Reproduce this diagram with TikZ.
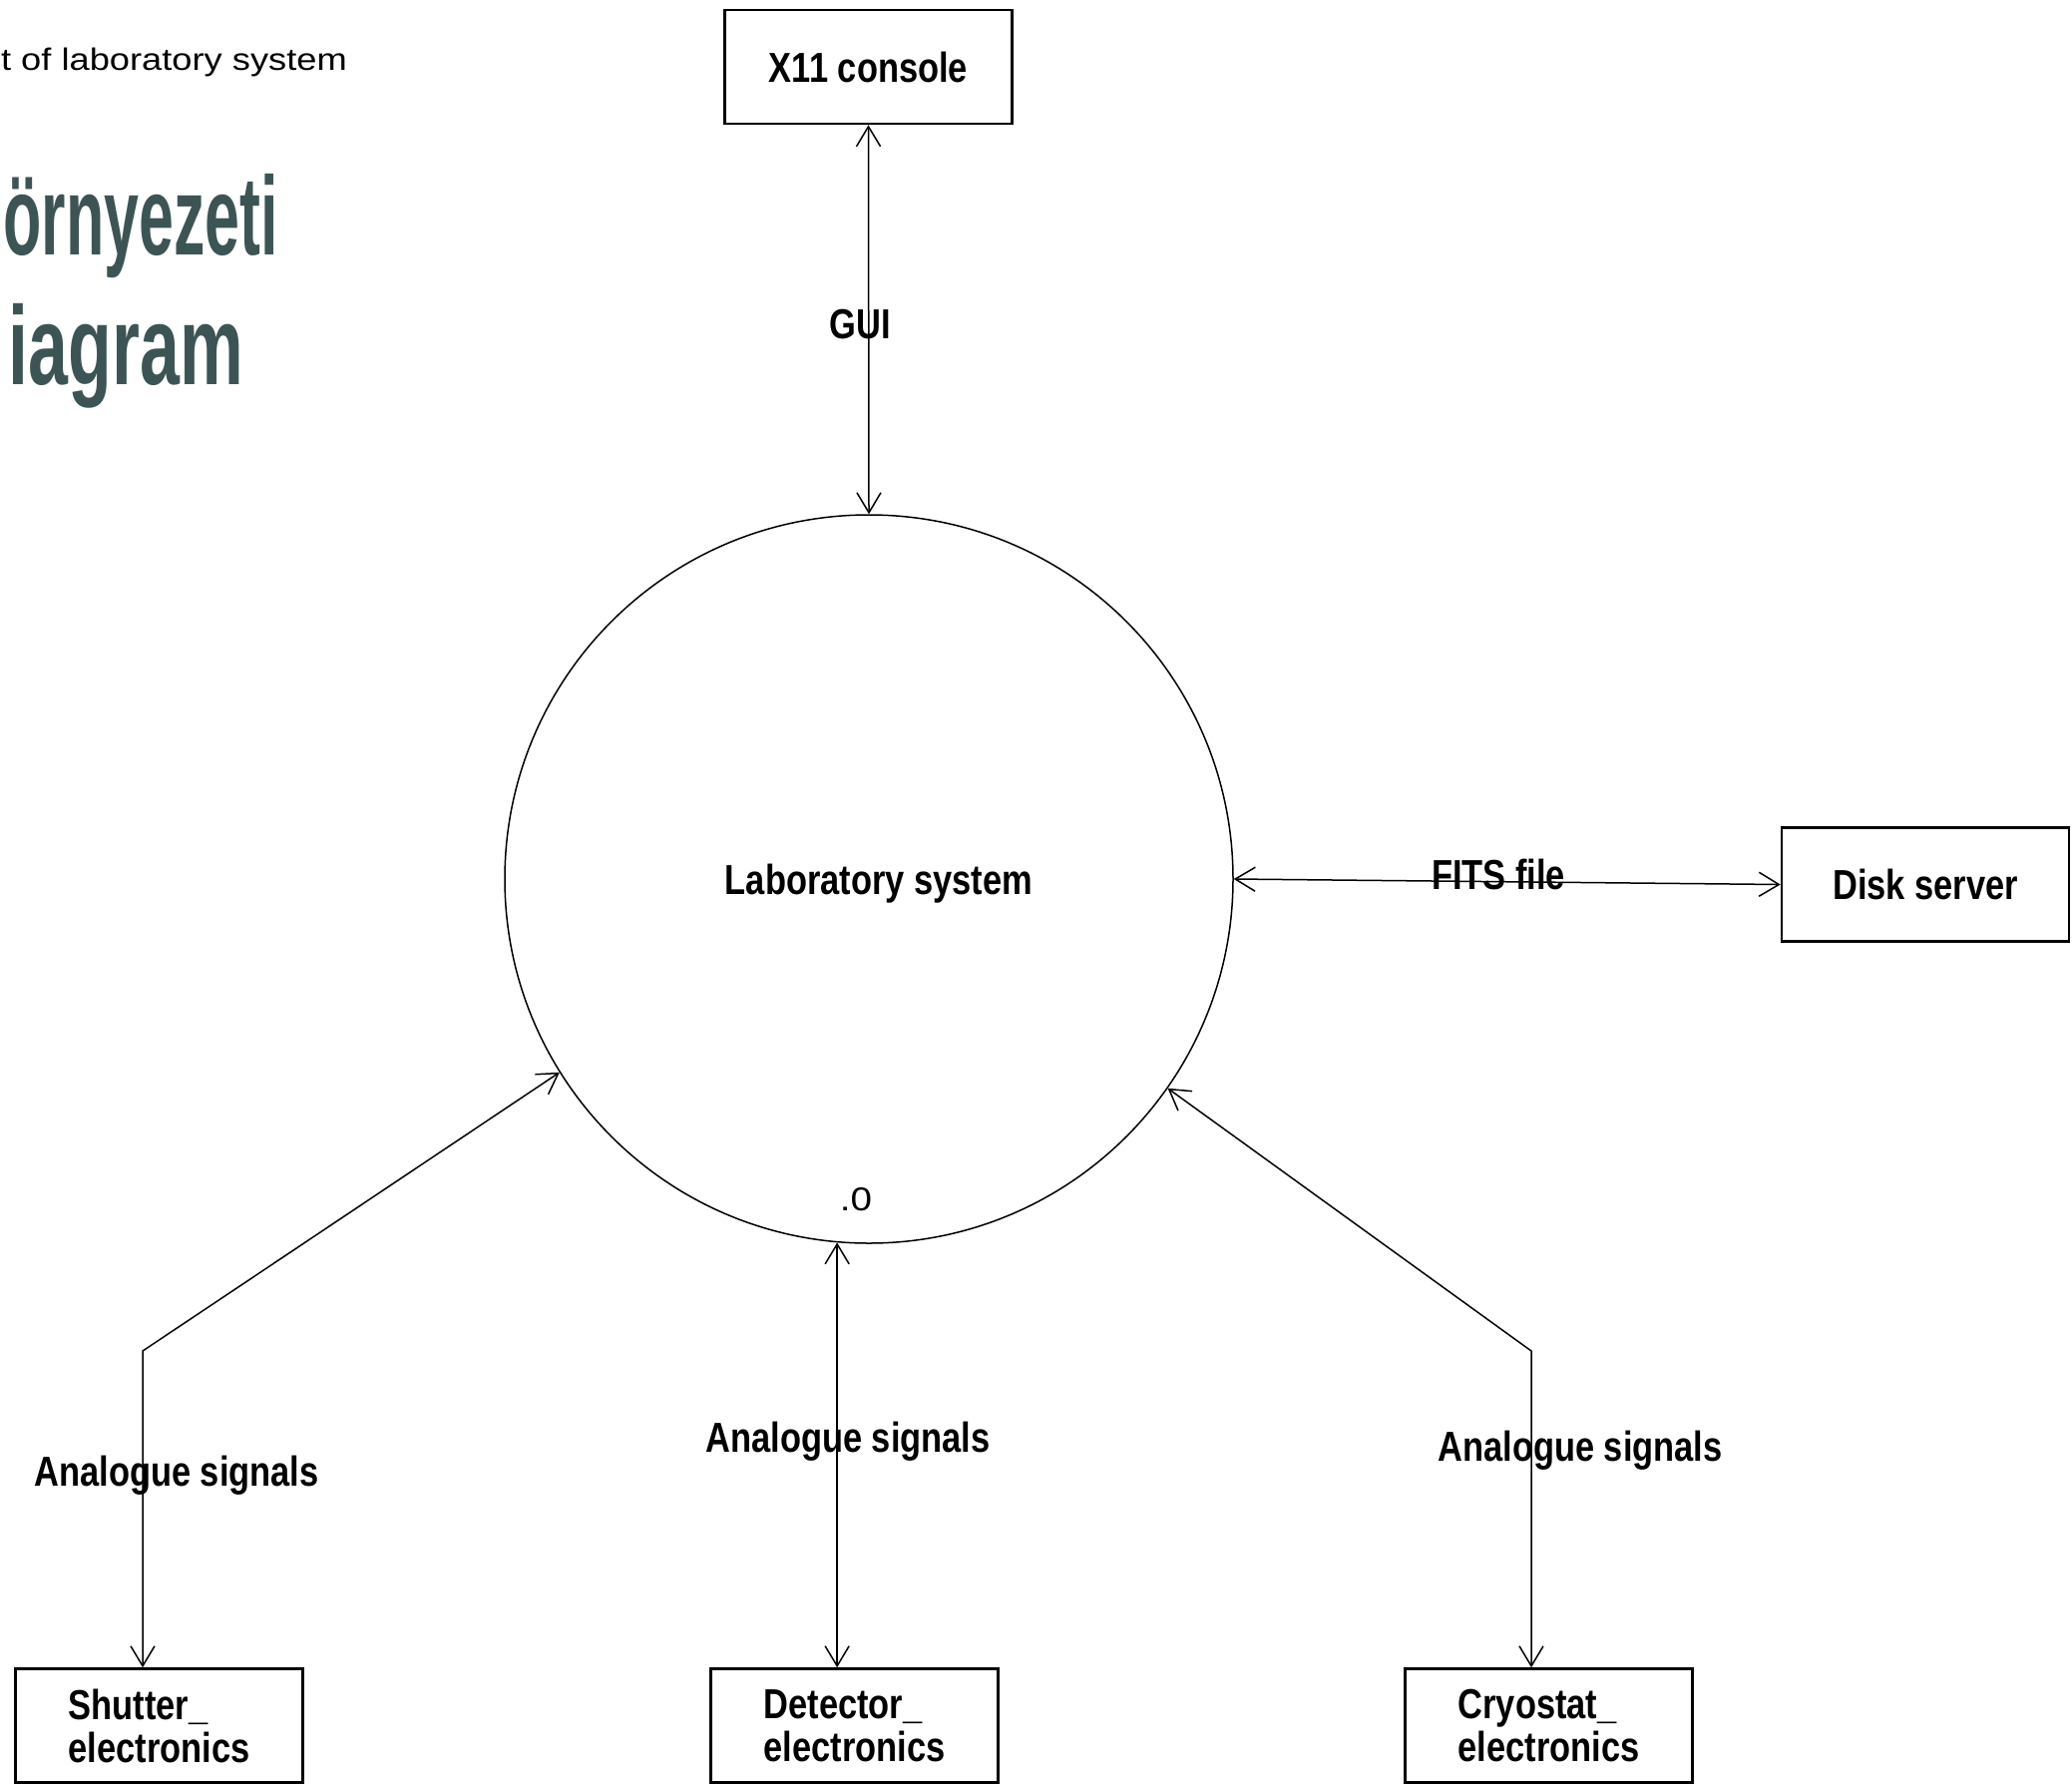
\documentclass[tikz,border=0pt]{standalone}
\usepackage{fontspec}
\setmainfont{Liberation Sans}
\newfontfamily\diafont[FakeStretch=0.82]{Liberation Sans Bold}
\newfontfamily\thinfont[FakeStretch=1.17]{Liberation Sans}
\newfontfamily\titlefonta[FakeStretch=0.56]{Liberation Sans Bold}
\newfontfamily\titlefontb[FakeStretch=0.64]{Liberation Sans Bold}
\usetikzlibrary{arrows.meta}
\definecolor{titlecol}{HTML}{3D5455}
\begin{document}
\begin{tikzpicture}[x=1pt,y=-1pt,
 box/.style={draw, line width=2.6pt, minimum width=288pt, minimum height=114pt, inner sep=0pt, font=\diafont\fontsize{42}{43}\selectfont, align=left},
 flow/.style={line width=1.5pt, {Straight Barb[length=20pt,width=24pt]}-{Straight Barb[length=20pt,width=24pt]}},
 lbl/.style={font=\diafont\fontsize{42}{43}\selectfont, inner sep=0pt},
 thin/.style={font=\thinfont\fontsize{31}{31}\selectfont, inner sep=0pt},
 ttl/.style={text=titlecol, inner sep=0pt, anchor=base east},
]
\fill[white] (0,0) rectangle (2077,1788);
\useasboundingbox (0,0) rectangle (2077,1788);

% title fragments
\node[thin, anchor=base east] (ctx) at (348,70) {t of laboratory system};
\node[ttl, font=\titlefonta\fontsize{112}{112}\selectfont] (t1) at (279,255) {örnyezeti};
\node[ttl, font=\titlefontb\fontsize{112}{112}\selectfont] (t2) at (244,385) {iagram};

% boxes
\node[box] (x11) at (870.5,67) {X11 console};
\node[box] (disk) at (1930,886.5) {Disk server};
\node[box] (shut) at (159.5,1729.5) {Shutter\_\\electronics};
\node[box] (det) at (856.5,1729.5) {Detector\_\\electronics};
\node[box] (cryo) at (1552.5,1729.5) {Cryostat\_\\electronics};

% process
\node[draw, circle, line width=1.5pt, minimum size=730pt, inner sep=0pt] (lab) at (871,881) {};
\node[lbl] (labtxt) at (881,886) {Laboratory system};
\node[thin, font=\thinfont\fontsize{33}{33}\selectfont, anchor=base] (zero) at (858,1213) {.0};

% connectors
\coordinate (sb) at (143,1354);
\coordinate (cb) at (1535,1354);
\draw[flow] (x11.south) -- (lab.north);
\draw[flow] (lab.east) -- (disk.west);
\draw[flow] (lab.212.3) -- (sb) -- (sb |- shut.north);
\draw[flow] (lab.265.1) -- (lab.265.1 |- det.north);
\draw[flow] (lab.325.3) -- (cb) -- (cb |- cryo.north);

% flow labels
\node[lbl] (gui) at (862,325) {GUI};
\node[lbl] (fits) at (1502,876) {FITS file};
\node[lbl] (as1) at (177,1479) {Analogue signals};
\node[lbl] (as2) at (850,1445) {Analogue signals};
\node[lbl] (as3) at (1584,1454) {Analogue signals};
\end{tikzpicture}
\end{document}
